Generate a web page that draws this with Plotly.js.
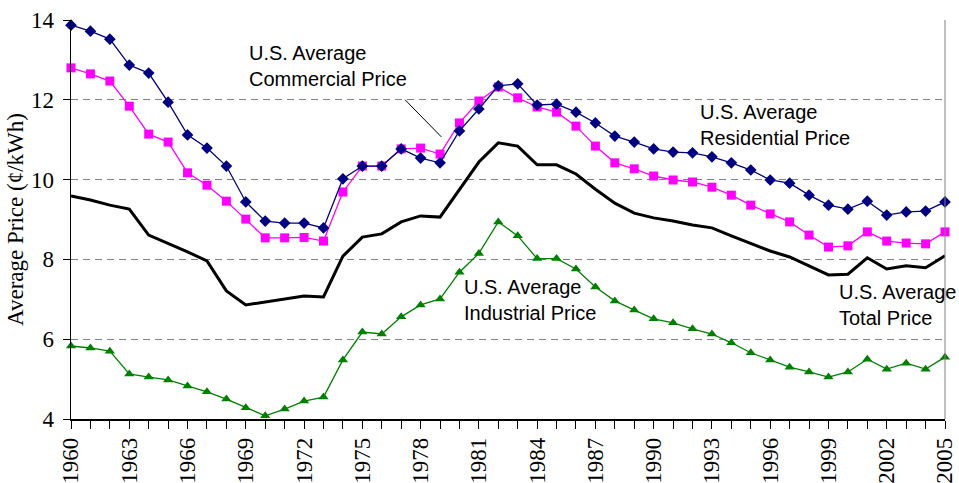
<!DOCTYPE html>
<html><head><meta charset="utf-8">
<script src="https://cdn.plot.ly/plotly-3.0.1.min.js"></script>
<style>html,body{margin:0;padding:0;background:#fff}#chart{width:959px;height:483px}</style>
</head><body><div id="chart"></div>
<script>
const years = [];
for (let y = 1960; y <= 2005; y++) years.push(y);

const residential = [13.87,13.72,13.52,12.87,12.67,11.94,11.12,10.79,10.34,9.44,8.96,8.91,8.91,8.79,10.02,10.34,10.34,10.77,10.54,10.42,11.22,11.77,12.35,12.40,11.87,11.89,11.69,11.42,11.09,10.94,10.77,10.69,10.67,10.57,10.42,10.24,9.99,9.91,9.61,9.36,9.26,9.46,9.11,9.19,9.21,9.44];
const commercial = [12.80,12.65,12.47,11.84,11.14,10.94,10.17,9.86,9.46,9.01,8.54,8.54,8.55,8.46,9.69,10.34,10.34,10.77,10.79,10.64,11.42,11.97,12.32,12.05,11.82,11.69,11.34,10.84,10.42,10.27,10.09,9.99,9.94,9.81,9.61,9.36,9.14,8.94,8.61,8.31,8.34,8.69,8.46,8.41,8.39,8.69];
const total = [9.59,9.49,9.36,9.26,8.61,8.41,8.19,7.96,7.21,6.86,6.93,7.01,7.08,7.06,8.08,8.56,8.64,8.94,9.09,9.06,9.76,10.44,10.92,10.84,10.37,10.37,10.14,9.76,9.41,9.16,9.04,8.96,8.86,8.79,8.59,8.39,8.21,8.06,7.84,7.61,7.63,8.04,7.76,7.84,7.79,8.09];
const industrial = [5.83,5.78,5.70,5.13,5.05,4.98,4.83,4.68,4.50,4.28,4.08,4.25,4.45,4.55,5.48,6.18,6.13,6.56,6.86,7.01,7.68,8.15,8.94,8.59,8.02,8.02,7.76,7.31,6.96,6.73,6.51,6.41,6.26,6.13,5.91,5.66,5.48,5.30,5.18,5.05,5.18,5.50,5.25,5.40,5.25,5.55];

const labels = ["U.S. Average<br>Commercial Price","U.S. Average<br>Residential Price","U.S. Average<br>Industrial Price","U.S. Average<br>Total Price"];

const traces = [
  {x: years, y: total, mode: 'lines', line: {color: '#000000', width: 3}, cliponaxis: false},
  {x: years, y: industrial, mode: 'lines+markers', line: {color: '#008000', width: 1.3}, marker: {symbol: 'triangle-up', size: 9, color: '#008000'}, cliponaxis: false},
  {x: years, y: commercial, mode: 'lines+markers', line: {color: '#FF00FF', width: 1.3}, marker: {symbol: 'square', size: 9, color: '#FF00FF'}, cliponaxis: false},
  {x: years, y: residential, mode: 'lines+markers', line: {color: '#000080', width: 1.3}, marker: {symbol: 'diamond', size: 9, color: '#000080'}, cliponaxis: false}
];

const serif = 'Liberation Serif, Times New Roman, serif';
const annFont = {family: 'Liberation Sans, Arial, sans-serif', size: 20, color: '#000'};
const layout = {
  width: 959, height: 483,
  margin: {l: 71, r: 14, t: 20, b: 64},
  paper_bgcolor: '#fff', plot_bgcolor: '#fff',
  showlegend: false,
  font: {family: serif, size: 23, color: '#000'},
  xaxis: {
    range: [1960, 2005], tick0: 1960, dtick: 3, tickangle: -90,
    ticks: 'outside', ticklen: 8, tickcolor: '#000', tickwidth: 1,
    minor: {dtick: 1, ticks: 'outside', ticklen: 8, tickcolor: '#000', tickwidth: 1},
    showline: true, linecolor: '#000', linewidth: 1.5,
    showgrid: false, zeroline: false,
    tickfont: {family: serif, size: 23}
  },
  yaxis: {
    range: [4, 14], dtick: 2, ticks: 'outside', ticklen: 7, tickcolor: '#000',
    showline: true, linecolor: '#000', linewidth: 1.5,
    showgrid: true, gridcolor: '#808080', griddash: '7px,5px', gridwidth: 1,
    zeroline: false, ticklabelstandoff: 4,
    tickfont: {family: serif, size: 23},
    title: {text: 'Average Price (¢/kWh)', font: {family: serif, size: 23}, standoff: 1}
  },
  shapes: [
    {type: 'line', xref: 'paper', yref: 'paper', x0: 1, x1: 1, y0: 0, y1: 1, line: {color: '#808080', width: 1}},
    {type: 'line', xref: 'x', yref: 'y', x0: 1977.2, y0: 12.0, x1: 1979.07, y1: 11.07, line: {color: '#000', width: 1}}
  ],
  annotations: [
    {x: 1969.07, y: 12.85, text: labels[0], xanchor: 'left', yanchor: 'middle', align: 'left', showarrow: false, font: annFont},
    {x: 1992.27, y: 11.37, text: labels[1], xanchor: 'left', yanchor: 'middle', align: 'left', showarrow: false, font: annFont},
    {x: 1980.15, y: 6.98, text: labels[2], xanchor: 'left', yanchor: 'middle', align: 'left', showarrow: false, font: annFont},
    {x: 1999.43, y: 6.86, text: labels[3], xanchor: 'left', yanchor: 'middle', align: 'left', showarrow: false, font: annFont}
  ]
};
Plotly.newPlot('chart', traces, layout, {displayModeBar: false, staticPlot: true});
</script></body></html>
